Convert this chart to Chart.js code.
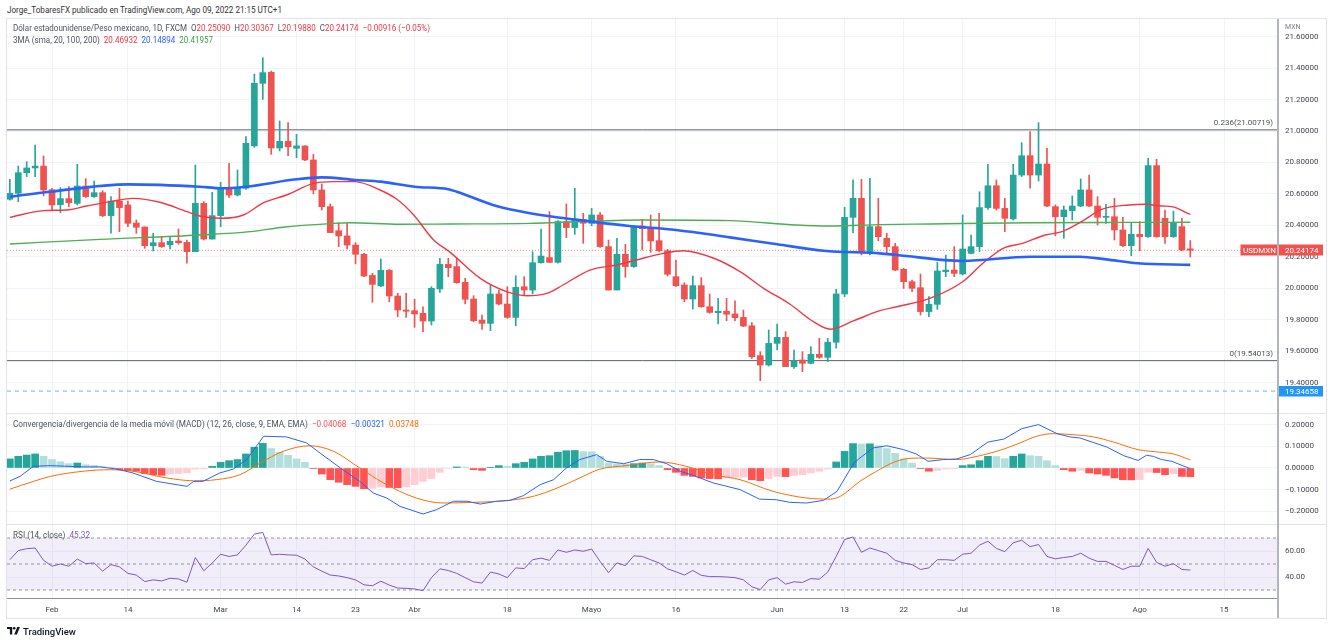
<!DOCTYPE html>
<html><head><meta charset="utf-8">
<script src="https://cdn.jsdelivr.net/npm/chart.js@4.4.1/dist/chart.umd.min.js"></script>
<style>
html,body{margin:0;padding:0;background:#fff;}
body{width:1332px;height:641px;position:relative;overflow:hidden;font-family:Roboto,"Liberation Sans",sans-serif;}
.abs{position:absolute;}
.txt{position:absolute;white-space:nowrap;transform-origin:0 50%;line-height:12px;font-size:9px;color:#50535e;}
.rd{color:#f23645}.bl{color:#2962ff}.gn{color:#43a047}.og{color:#ff6d00}.mr{color:#ff5252}.pu{color:#7e57c2}
</style></head><body>
<div class="txt" id="hdr" style="left:7px;top:4px;color:#333">Jorge_TobaresFX publicado en TradingView.com, Ago 09, 2022 21:15 UTC+1</div>
<div class="abs" style="left:6px;top:18px;width:1319px;height:599px;border:1px solid #e0e3eb"></div>
<canvas id="cMain" class="abs" style="left:7px;top:19px" width="1319" height="394"></canvas>
<canvas id="cMacd" class="abs" style="left:7px;top:414px" width="1319" height="110"></canvas>
<canvas id="cRsi" class="abs" style="left:7px;top:525px" width="1319" height="92"></canvas>
<div class="abs" style="left:7px;top:413px;width:1319px;height:1px;background:#e0e3eb"></div>
<div class="abs" style="left:7px;top:524px;width:1319px;height:1px;background:#e0e3eb"></div>
<div class="abs" style="left:1277px;top:19px;width:2px;height:599px;background:#b2b5be"></div>
<div class="txt" id="lg1" style="left:13px;top:22px"></div>
<div class="txt" id="lg2" style="left:13px;top:34px"></div>
<div class="txt" id="lg3" style="left:13px;top:418px"></div>
<div class="txt" id="lg4" style="left:13px;top:529px"></div>
<div class="abs" style="left:7px;top:625px;height:12px;display:flex;align-items:center">
<svg width="13" height="8" viewBox="0 0 13 8"><path d="M0 0h5.2v7.6H2.9V2.1H0z" fill="#131722"/><circle cx="7.2" cy="1.3" r="1.3" fill="#131722"/><path d="M10.3 0h2.7l-3.1 7.6H7.2z" fill="#131722"/></svg>
<span style="font-size:9.5px;color:#131722;margin-left:3px;font-weight:500">TradingView</span></div>
<script>
// ================= DATA =================
const FIRST_BAR = -5;          // bar index of first candle; bar 0 = 1 Feb 2022
const openV = [
20.566,20.604,20.735,20.765,20.777,20.627,20.532,20.570,20.540,20.650,
20.583,20.608,20.462,20.555,20.530,20.415,20.390,20.271,20.290,20.277,
20.301,20.292,20.233,20.540,20.313,20.462,20.638,20.593,20.636,20.905,
21.303,21.373,20.892,20.934,20.890,20.905,20.816,20.625,20.519,20.366,
20.333,20.275,20.216,20.082,20.015,20.114,19.951,19.862,19.858,19.841,
19.792,19.996,20.152,20.138,20.038,19.932,19.798,19.777,19.964,19.900,
19.815,20.010,19.989,20.163,20.195,20.165,20.424,20.386,20.438,20.413,
20.466,20.265,19.989,20.216,20.138,20.396,20.388,20.303,20.239,20.074,
20.021,19.932,20.017,19.883,19.845,19.854,19.837,19.815,19.762,19.572,
19.512,19.650,19.688,19.502,19.544,19.523,19.580,19.561,19.657,19.964,
20.451,20.572,20.233,20.392,20.318,20.265,20.121,20.042,20.004,19.852,
19.898,20.106,20.116,20.091,20.222,20.265,20.513,20.652,20.508,20.441,
20.720,20.843,20.720,20.790,20.519,20.455,20.494,20.523,20.625,20.523,
20.451,20.455,20.371,20.271,20.343,20.328,20.780,20.445,20.328,20.392,
20.25090];
const highV = [
20.693,20.777,20.805,20.911,20.841,20.636,20.640,20.646,20.788,20.697,
20.682,20.621,20.583,20.636,20.555,20.434,20.390,20.350,20.328,20.328,
20.377,20.307,20.784,20.551,20.610,20.674,20.794,20.752,20.964,21.362,
21.466,21.381,21.064,21.053,20.979,20.905,20.852,20.663,20.536,20.417,
20.413,20.290,20.222,20.095,20.186,20.121,19.968,19.968,19.930,19.883,
20.010,20.191,20.191,20.190,20.063,19.953,19.830,20.021,19.989,20.010,
20.080,20.074,20.233,20.377,20.487,20.430,20.536,20.636,20.477,20.508,
20.481,20.307,20.318,20.279,20.396,20.438,20.466,20.477,20.248,20.180,
20.036,20.078,20.068,19.964,19.936,19.936,19.921,19.862,19.782,19.597,
19.735,19.773,19.724,19.608,19.597,19.629,19.682,19.682,19.994,20.515,
20.689,20.693,20.699,20.572,20.350,20.286,20.127,20.053,20.091,19.947,
20.165,20.212,20.265,20.466,20.339,20.614,20.788,20.689,20.572,20.788,
20.926,20.996,21.053,20.890,20.530,20.523,20.587,20.695,20.720,20.583,
20.534,20.572,20.451,20.417,20.424,20.826,20.820,20.498,20.491,20.445,
20.30367];
const lowV = [
20.561,20.551,20.710,20.710,20.587,20.498,20.481,20.519,20.530,20.578,
20.578,20.455,20.350,20.360,20.392,20.350,20.254,20.237,20.260,20.250,
20.280,20.159,20.233,20.307,20.313,20.392,20.578,20.587,20.629,20.896,
21.201,20.852,20.873,20.843,20.830,20.811,20.600,20.498,20.354,20.265,
20.250,20.155,20.074,19.911,20.010,19.915,19.820,19.815,19.752,19.724,
19.767,19.974,20.074,20.032,19.900,19.788,19.739,19.731,19.894,19.809,
19.762,19.953,19.964,20.159,20.163,20.159,20.322,20.343,20.286,20.398,
20.260,19.989,19.989,20.070,20.133,20.244,20.229,20.233,20.078,20.010,
19.915,19.868,19.879,19.841,19.773,19.794,19.794,19.756,19.555,19.413,
19.506,19.608,19.502,19.491,19.470,19.519,19.555,19.534,19.619,19.947,
20.354,20.212,20.212,20.303,20.222,20.112,19.999,19.979,19.830,19.820,
19.866,20.074,20.074,20.085,20.218,20.233,20.502,20.498,20.360,20.434,
20.710,20.636,20.682,20.519,20.333,20.318,20.434,20.519,20.519,20.402,
20.413,20.307,20.265,20.207,20.239,20.324,20.324,20.286,20.324,20.239,
20.19880];
const closeV = [
20.604,20.735,20.765,20.777,20.625,20.530,20.570,20.544,20.650,20.583,
20.608,20.462,20.555,20.513,20.413,20.388,20.271,20.290,20.265,20.299,
20.290,20.233,20.540,20.313,20.462,20.638,20.593,20.638,20.922,21.303,
21.371,20.892,20.934,20.900,20.905,20.816,20.625,20.519,20.354,20.333,
20.275,20.216,20.078,20.025,20.114,19.951,19.862,19.854,19.837,19.792,
20.000,20.152,20.131,20.036,19.930,19.794,19.777,19.964,19.900,19.815,
20.006,19.989,20.163,20.205,20.165,20.424,20.386,20.438,20.413,20.466,
20.265,19.989,20.216,20.138,20.396,20.379,20.301,20.239,20.089,20.017,
19.932,20.017,19.883,19.847,19.854,19.835,19.813,19.760,19.565,19.512,
19.650,19.688,19.502,19.540,19.523,19.580,19.561,19.657,19.964,20.451,
20.572,20.233,20.392,20.328,20.265,20.116,20.042,20.000,19.852,19.898,
20.110,20.116,20.095,20.250,20.265,20.513,20.652,20.508,20.445,20.720,
20.843,20.720,20.790,20.523,20.455,20.498,20.523,20.625,20.523,20.451,
20.455,20.371,20.271,20.343,20.328,20.780,20.328,20.328,20.417,20.244,
20.24174];
// moving averages: [bar index, value]
const sma20 = [[-5,20.451],[-1,20.494],[1.7,20.498],[4.1,20.523],[6.9,20.551],[9.6,20.572],[12.8,20.547],[16,20.487],[17.5,20.460],[20.1,20.445],[22.7,20.466],[25.1,20.544],[27.8,20.593],[31,20.667],[33.4,20.678],[35.9,20.678],[38.9,20.625],[40.9,20.566],[42.9,20.466],[45.2,20.311],[47.2,20.230],[50.8,20.063],[53.9,19.979],[56.3,19.953],[58.7,19.968],[60.6,20.021],[63.8,20.116],[67,20.148],[69.3,20.180],[72.5,20.222],[74.9,20.239],[78.5,20.191],[81.6,20.106],[84.4,20.000],[87.5,19.900],[90.3,19.788],[92.3,19.740],[95.1,19.794],[98.2,19.858],[100.2,19.883],[104.1,19.936],[108,20.042],[110.4,20.159],[112.8,20.254],[115.1,20.286],[117.8,20.339],[119.8,20.360],[122.1,20.424],[124.5,20.502],[127.7,20.530],[129.7,20.534],[131.6,20.523],[132.8,20.519],[135,20.46932]];
const sma100 = [[-5,20.582],[-0.2,20.614],[9,20.661],[17.5,20.646],[20,20.636],[23,20.646],[29,20.693],[32,20.705],[36,20.689],[39,20.678],[43,20.646],[47,20.630],[48,20.614],[52.7,20.523],[56.7,20.477],[64,20.424],[68.5,20.396],[74,20.371],[80.4,20.324],[86,20.280],[91.5,20.239],[98.2,20.222],[100.2,20.212],[108,20.174],[116,20.201],[121.9,20.201],[125,20.184],[128.8,20.159],[135,20.14894]];
const sma200 = [[-5,20.282],[5.7,20.311],[17.5,20.339],[23.5,20.360],[27.4,20.388],[33.4,20.413],[35.3,20.417],[41.3,20.407],[47.2,20.409],[56.7,20.413],[70.1,20.434],[80.4,20.430],[88.3,20.402],[92.3,20.396],[98.2,20.405],[104.1,20.409],[116,20.417],[127.7,20.419],[135,20.41957]];
// MACD histogram, one value per bar
const macdHist = [
0.042,0.054,0.060,0.065,0.054,0.039,0.029,0.020,0.023,0.015,
0.012,0.006,0.003,-0.008,-0.011,-0.015,-0.026,-0.031,-0.034,-0.028,
-0.026,-0.023,-0.006,-0.004,0.008,0.026,0.034,0.039,0.065,0.096,
0.114,0.090,0.073,0.059,0.042,0.026,-0.003,-0.028,-0.054,-0.066,
-0.077,-0.085,-0.096,-0.094,-0.088,-0.090,-0.091,-0.088,-0.077,-0.062,
-0.049,-0.020,-0.002,0.005,0.004,-0.008,-0.011,0.003,0.011,0.008,
0.020,0.026,0.042,0.054,0.057,0.073,0.080,0.081,0.076,0.075,
0.054,0.023,0.019,0.018,0.020,0.023,0.020,0.011,-0.008,-0.020,
-0.034,-0.039,-0.046,-0.049,-0.050,-0.046,-0.043,-0.042,-0.054,-0.059,
-0.049,-0.039,-0.040,-0.035,-0.031,-0.023,-0.015,-0.005,0.028,0.077,
0.113,0.111,0.112,0.103,0.090,0.068,0.042,0.023,-0.003,-0.015,
-0.011,-0.005,-0.003,0.011,0.015,0.034,0.054,0.053,0.043,0.054,
0.065,0.057,0.054,0.034,0.011,-0.008,-0.015,-0.011,-0.023,-0.028,
-0.034,-0.046,-0.054,-0.055,-0.054,-0.020,-0.021,-0.031,-0.026,-0.039,
-0.04068];
const macdLine = [[-5,-0.060],[-3.8,-0.039],[-2.2,0.008],[-0.2,0.011],[3.7,0.005],[5.7,0.005],[7.7,-0.005],[9.6,-0.023],[12.4,-0.062],[16,-0.085],[16.8,-0.062],[17.9,-0.062],[19.9,-0.023],[21.5,-0.005],[23.1,0.039],[25.1,0.147],[27.8,0.144],[30.2,0.116],[31.8,0.069],[34.2,0.000],[36.5,-0.062],[38.1,-0.116],[39.7,-0.139],[41.3,-0.178],[44.0,-0.213],[45.6,-0.193],[47.6,-0.154],[49.2,-0.154],[50.8,-0.167],[52.7,-0.154],[54.3,-0.150],[55.9,-0.128],[57.9,-0.077],[59.5,-0.054],[61.0,0.000],[62.6,0.039],[64.6,0.062],[65.8,0.031],[67.8,0.020],[69.7,0.039],[71.3,0.039],[72.9,0.020],[74.5,-0.015],[76.1,-0.035],[78.4,-0.069],[81.6,-0.100],[83.9,-0.144],[85.9,-0.147],[87.5,-0.159],[89.5,-0.162],[91.5,-0.150],[93.1,-0.108],[95.1,0.023],[95.8,0.046],[97.4,0.093],[99.0,0.103],[101.0,0.085],[102.5,0.065],[103.9,0.031],[105.7,0.039],[107.3,0.042],[108.9,0.062],[111.0,0.120],[112.9,0.134],[115.0,0.182],[117.0,0.201],[119.2,0.159],[120.7,0.144],[121.9,0.139],[125.1,0.097],[127.1,0.057],[128.8,0.035],[129.8,0.059],[130.6,0.054],[131.6,0.039],[132.8,0.031],[135,-0.00321]];
const signalLine = [[-5,-0.098],[-2.2,-0.062],[-0.2,-0.039],[3.7,-0.015],[6.9,-0.008],[9.6,-0.015],[13.6,-0.046],[16.8,-0.059],[19.5,-0.054],[22.3,-0.031],[24.7,0.023],[27.4,0.077],[30.6,0.103],[33.4,0.077],[36.5,0.000],[39.3,-0.069],[43.2,-0.139],[46.4,-0.162],[50.0,-0.159],[53.9,-0.151],[57.1,-0.131],[59.9,-0.093],[62.6,-0.046],[65.0,-0.005],[68.1,0.011],[72.1,0.028],[75.2,0.008],[78.4,-0.031],[81.6,-0.054],[85.5,-0.108],[89.5,-0.139],[92.3,-0.144],[93.5,-0.131],[95.8,-0.062],[97.8,-0.015],[99.8,0.026],[101.8,0.045],[103.7,0.046],[107.3,0.039],[109.7,0.054],[112.9,0.088],[114.8,0.116],[116.8,0.147],[118.7,0.159],[121.1,0.154],[123.5,0.144],[125.9,0.120],[128.8,0.085],[131.4,0.073],[133.0,0.065],[135,0.03748]];
// RSI(14), one value per bar
const rsiV = [
53.3,60.3,61.8,62.3,52.8,48.3,50.0,48.3,53.8,50.3,
50.8,44.5,49.5,47.8,42.8,41.5,36.5,37.8,37.0,39.0,
38.5,36.0,55.0,44.8,50.8,57.5,55.8,57.0,64.5,73.0,
74.3,57.0,57.5,57.0,56.8,53.8,47.8,44.5,41.5,40.8,
39.5,37.8,34.0,33.3,36.8,33.8,31.5,31.3,30.8,29.5,
39.5,46.3,45.0,42.8,39.5,36.3,35.3,43.8,42.3,39.5,
47.0,46.5,53.3,54.5,52.8,60.8,59.0,60.8,59.8,61.5,
52.0,43.3,50.8,48.8,56.3,55.8,53.3,50.8,46.3,44.0,
41.5,45.0,41.3,40.3,40.3,40.0,39.5,37.8,32.5,30.3,
37.8,39.5,34.5,36.3,35.8,38.8,38.3,43.8,55.8,68.8,
70.8,59.0,62.3,60.3,58.3,52.8,50.8,49.5,45.8,47.0,
53.3,53.3,52.8,57.5,58.3,64.5,67.5,62.0,59.5,66.3,
68.3,63.3,65.0,55.8,54.0,55.0,55.8,58.3,54.5,52.0,
52.0,49.0,45.8,48.3,48.3,62.0,51.3,48.3,50.3,45.8,
45.32];
const timeTicks  = [0, 9, 20, 29, 36, 43, 54, 64, 74, 86, 94, 101, 108, 119, 129, 139];
const timeLabels = ['Feb','14','Mar','14','23','Abr','18','Mayo','16','Jun','13','22','Jul','18','Ago','15'];
const priceTicks = [19.4,19.6,19.8,20.0,20.2,20.4,20.6,20.8,21.0,21.2,21.4,21.6];
const macdTicks  = [-0.2,-0.1,0,0.1,0.2];
const rsiTicks   = [40,60];
const rsiBands   = [70,50,30];
const fibLevels  = [{label:'0.236', value:21.00719},{label:'0', value:19.54013}];
const lastPrice  = 20.24174;
const markPrice  = 19.34658;

// ================= LAYOUT / STYLE =================
const XMIN = -5.337, XMAX = 145.4;
const GRID = '#f0f3fa', TICKC = '#434651';
const TFONT = {family:'Roboto', size:8};
const UP = '#26a69a', DN = '#ef5350';
const M = '\u2212';
const f5 = v => (v < 0 ? M : '') + Math.abs(v).toFixed(5);
const f2 = v => (v < 0 ? M : '') + Math.abs(v).toFixed(2);
const bars = closeV.map((_, k) => FIRST_BAR + k);
const pts = arr => arr.map(([x, y]) => ({x, y}));
const hline = v => [{x:XMIN, y:v}, {x:XMAX, y:v}];

function xScale(show) {
  return {
    type:'linear', min:XMIN, max:XMAX, offset:false,
    grid:{color:GRID, drawTicks:false, offset:false},
    border:{display:show, color:'#8c8f98', width:1},
    ticks:{display:show, font:TFONT, color:TICKC, padding:7, maxRotation:0, autoSkip:false,
      callback:v => { const k = timeTicks.indexOf(v); return k >= 0 ? timeLabels[k] : ''; }},
    afterBuildTicks:s => { s.ticks = timeTicks.map(v => ({value:v})); },
    afterFit:s => { s.height = show ? 19 : 0; s.paddingLeft = 0; s.paddingRight = 0; s.paddingTop = 0; s.paddingBottom = 0; }
  };
}
function yScale(min, max, ticks, fmt) {
  return {
    type:'linear', position:'right', min, max,
    grid:{color:GRID, drawTicks:false},
    border:{display:false},
    ticks:{font:TFONT, color:TICKC, padding:7, autoSkip:false, callback:v => fmt(v)},
    afterBuildTicks:s => { s.ticks = ticks.map(v => ({value:v})); },
    afterFit:s => { s.width = 48; s.paddingTop = 0; s.paddingBottom = 0; s.paddingLeft = 0; s.paddingRight = 0; }
  };
}
const base = {
  responsive:false, animation:false, devicePixelRatio:1, events:[],
  layout:{padding:0, autoPadding:false},
  plugins:{legend:{display:false}, tooltip:{enabled:false}}
};

// ---------- main pane ----------
const candleCol = closeV.map((c, k) => c >= openV[k] ? UP : DN);
const mainOverlay = {
  id:'mainOverlay',
  afterDraw(chart) {
    const {ctx, chartArea:a, scales:{y}} = chart;
    ctx.save();
    ctx.font = '8px Roboto';
    ctx.fillStyle = '#50535e'; ctx.textAlign = 'right'; ctx.textBaseline = 'alphabetic';
    fibLevels.forEach(f => ctx.fillText(`${f.label}(${f.value.toFixed(5)})`, a.right - 5, y.getPixelForValue(f.value) - 5));
    ctx.fillStyle = '#fff'; ctx.fillRect(a.right + 2, 0, 46, 15);
    ctx.fillStyle = '#787b86'; ctx.textAlign = 'left'; ctx.textBaseline = 'middle';
    ctx.font = '7px Roboto'; ctx.fillText('MXN', a.right + 7, 8);
    ctx.font = '8px Roboto';
    const yp = Math.round(y.getPixelForValue(lastPrice));
    ctx.fillStyle = '#ef5350';
    ctx.fillRect(a.right - 37.5, yp - 5.5, 37.5, 11);
    ctx.fillRect(a.right + 1, yp - 5.5, 44, 11);
    ctx.fillStyle = '#fff';
    ctx.textAlign = 'center'; ctx.fillText('USDMXN', a.right - 18.5, yp + 0.5);
    ctx.textAlign = 'left'; ctx.fillText(lastPrice.toFixed(5), a.right + 7, yp + 0.5);
    const ym = Math.round(y.getPixelForValue(markPrice));
    ctx.fillStyle = '#2196f3'; ctx.fillRect(a.right + 1, ym - 5, 44, 10.5);
    ctx.fillStyle = '#fff'; ctx.fillText(markPrice.toFixed(5), a.right + 7, ym + 0.5);
    ctx.restore();
  }
};
new Chart(document.getElementById('cMain'), {
  type:'bar',
  data:{datasets:[
    {type:'line', data:pts(sma100), borderColor:'#2962ff', borderWidth:2.6, pointRadius:0, cubicInterpolationMode:'monotone', order:1},
    {type:'line', data:pts(sma20), borderColor:'#f23645', borderWidth:1.4, pointRadius:0, cubicInterpolationMode:'monotone', order:1},
    {type:'line', data:pts(sma200), borderColor:'#4caf50', borderWidth:1.4, pointRadius:0, cubicInterpolationMode:'monotone', order:1},
    {data:bars.map((x, k) => ({x, y:[lowV[k], highV[k]]})), backgroundColor:candleCol, barThickness:1, grouped:false, order:3},
    {data:bars.map((x, k) => ({x, y:[openV[k], closeV[k]]})), backgroundColor:candleCol, barThickness:6, minBarLength:1, grouped:false, order:2},
    ...fibLevels.map(f => ({type:'line', data:hline(f.value), borderColor:'#5d606b', borderWidth:1, pointRadius:0, order:4})),
    {type:'line', data:hline(lastPrice), borderColor:'rgba(239,83,80,0.7)', borderWidth:1, borderDash:[1,2], pointRadius:0, order:4},
    {type:'line', data:hline(markPrice), borderColor:'#6fb3f2', borderWidth:1, borderDash:[4,4], pointRadius:0, order:4}
  ]},
  options:{...base, scales:{x:xScale(false), y:yScale(19.2073, 21.712, priceTicks, v => v.toFixed(5))}},
  plugins:[mainOverlay]
});

// ---------- MACD pane ----------
const histCol = macdHist.map((v, k) => {
  const p = k > 0 ? macdHist[k - 1] : v;
  if (v >= 0) return v >= p ? '#26a69a' : '#b2dfdb';
  return v <= p ? '#ff5252' : '#ffcdd2';
});
new Chart(document.getElementById('cMacd'), {
  type:'bar',
  data:{datasets:[
    {data:bars.map((x, k) => ({x, y:macdHist[k]})), backgroundColor:histCol, barThickness:7, grouped:false, order:2},
    {type:'line', data:pts(macdLine), borderColor:'#2962ff', borderWidth:1, pointRadius:0, order:1},
    {type:'line', data:pts(signalLine), borderColor:'#ff6d00', borderWidth:1, pointRadius:0, cubicInterpolationMode:'monotone', order:1}
  ]},
  options:{...base, scales:{x:xScale(false), y:yScale(-0.2593, 0.25, macdTicks, f5)}}
});

// ---------- RSI pane ----------
new Chart(document.getElementById('cRsi'), {
  type:'line',
  data:{datasets:[
    {data:hline(rsiBands[0]), borderColor:'#9598a1', borderWidth:1, borderDash:[3,3], pointRadius:0, fill:{value:rsiBands[2]}, backgroundColor:'rgba(126,87,194,0.1)', order:3},
    {data:hline(rsiBands[1]), borderColor:'#9598a1', borderWidth:1, borderDash:[3,3], pointRadius:0, order:3},
    {data:hline(rsiBands[2]), borderColor:'#9598a1', borderWidth:1, borderDash:[3,3], pointRadius:0, order:3},
    {data:bars.map((x, k) => ({x, y:rsiV[k]})), borderColor:'#7e57c2', borderWidth:1, pointRadius:0, order:1}
  ]},
  options:{...base, scales:{x:xScale(true), y:yScale(23.85, 80.0, rsiTicks, v => v.toFixed(2))}}
});

// ---------- legends (text) ----------
const L = openV.length - 1;
const chg = closeV[L] - openV[L];
const last = a => a[a.length - 1][1];
document.getElementById('lg1').innerHTML =
  `Dólar estadounidense/Peso mexicano, 1D, FXCM&nbsp; O<span class="rd">${f5(openV[L])}</span>&nbsp; H<span class="rd">${f5(highV[L])}</span>&nbsp; L<span class="rd">${f5(lowV[L])}</span>&nbsp; C<span class="rd">${f5(closeV[L])}</span>&nbsp; <span class="rd">${f5(chg)} (${f2(chg / openV[L] * 100)}%)</span>`;
document.getElementById('lg2').innerHTML =
  `3MA (sma, 20, 100, 200)&nbsp; <span class="rd">${f5(last(sma20))}</span>&nbsp; <span class="bl">${f5(last(sma100))}</span>&nbsp; <span class="gn">${f5(last(sma200))}</span>`;
document.getElementById('lg3').innerHTML =
  `Convergencia/divergencia de la media móvil (MACD) (12, 26, close, 9, EMA, EMA)&nbsp; <span class="mr">${f5(macdHist[L])}</span>&nbsp; <span class="bl">${f5(last(macdLine))}</span>&nbsp; <span class="og">${f5(last(signalLine))}</span>`;
document.getElementById('lg4').innerHTML =
  `RSI (14, close)&nbsp; <span class="pu">${rsiV[L].toFixed(2)}</span>`;
[['hdr',275],['lg1',417],['lg2',200],['lg3',406],['lg4',77]].forEach(([id, w]) => {
  const el = document.getElementById(id);
  const nw = el.getBoundingClientRect().width;
  if (nw > 0) el.style.transform = `scaleX(${(w / nw).toFixed(3)})`;
});
</script>
</body></html>
